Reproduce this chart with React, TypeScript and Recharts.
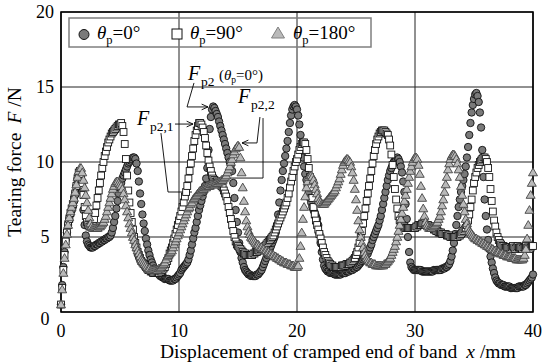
import { ScatterChart, Scatter, XAxis, YAxis, CartesianGrid, ReferenceLine, ReferenceDot, ReferenceArea } from 'recharts'

// displacement is sampled every 0.1 mm from 0 to 40 mm
const STEP = 0.1
const xTicks = [0, 10, 20, 30, 40]
const yTicks = [0, 5, 10, 15, 20]

// tearing force F [N], theta_p = 0 deg
const forceP0 = [
	0.5, 1.8, 3.0, 4.0, 4.8, 5.3, 5.8, 6.2, 6.5, 6.8,
	7.0, 7.4, 7.9, 8.4, 8.9, 9.2, 9.3, 9.0, 8.0, 6.8,
	5.8, 5.1, 4.7, 4.5, 4.4, 4.3, 4.3, 4.3, 4.4, 4.4,
	4.5, 4.5, 4.6, 4.6, 4.7, 4.7, 4.8, 4.8, 4.9, 4.9,
	5.0, 5.0, 5.1, 5.3, 5.6, 6.0, 6.4, 6.9, 7.4, 7.9,
	8.3, 8.6, 8.9, 9.1, 9.3, 9.5, 9.7, 9.9, 10.0, 10.1,
	10.2, 10.3, 10.3, 10.2, 9.9, 9.4, 8.7, 7.9, 7.2, 6.5,
	5.9, 5.4, 4.9, 4.5, 4.1, 3.8, 3.5, 3.3, 3.1, 2.9,
	2.8, 2.7, 2.6, 2.5, 2.4, 2.4, 2.3, 2.3, 2.2, 2.2,
	2.2, 2.2, 2.1, 2.1, 2.1, 2.1, 2.2, 2.2, 2.3, 2.4,
	2.5, 2.6, 2.8, 2.9, 3.0, 3.1, 3.2, 3.3, 3.5, 3.8,
	4.1, 4.5, 4.9, 5.3, 5.6, 6.0, 6.4, 6.8, 7.1, 7.4,
	7.7, 8.0, 8.4, 8.9, 9.6, 10.8, 12.2, 13.0, 13.5, 13.7,
	13.6, 13.4, 13.2, 13.0, 12.7, 12.4, 12.1, 11.8, 11.5, 11.2,
	10.9, 10.6, 10.3, 10.0, 9.8, 9.4, 8.6, 7.6, 6.8, 6.0,
	5.3, 4.6, 4.0, 3.6, 3.3, 3.0, 2.8, 2.7, 2.6, 2.5,
	2.5, 2.4, 2.4, 2.4, 2.4, 2.4, 2.5, 2.5, 2.6, 2.7,
	2.8, 3.0, 3.2, 3.4, 3.6, 3.8, 4.0, 4.2, 4.4, 4.6,
	4.8, 5.0, 5.3, 5.8, 6.5, 7.3, 8.1, 8.8, 9.4, 9.9,
	10.4, 10.9, 11.4, 12.0, 12.6, 13.1, 13.5, 13.7, 13.8, 13.7,
	13.5, 13.1, 12.5, 11.8, 11.0, 10.3, 9.7, 9.2, 8.8, 8.4,
	8.0, 7.6, 7.3, 7.0, 6.8, 6.6, 6.4, 6.2, 5.8, 5.2,
	4.6, 4.0, 3.5, 3.1, 2.9, 2.8, 2.7, 2.7, 2.6, 2.6,
	2.6, 2.6, 2.5, 2.5, 2.5, 2.5, 2.5, 2.5, 2.6, 2.6,
	2.6, 2.6, 2.7, 2.7, 2.7, 2.8, 2.8, 2.8, 2.9, 2.9,
	3.0, 3.0, 3.1, 3.2, 3.3, 3.4, 3.5, 3.6, 3.7, 3.8,
	3.9, 4.1, 4.3, 4.5, 4.8, 5.0, 5.2, 5.4, 5.6, 5.8,
	6.1, 6.4, 6.8, 7.2, 7.6, 8.0, 8.4, 8.8, 9.1, 9.4,
	9.6, 9.8, 10.0, 10.1, 10.2, 10.3, 10.2, 10.0, 9.7, 9.3,
	8.7, 8.0, 7.2, 6.2, 5.0, 4.0, 3.3, 3.0, 2.9, 2.8,
	2.8, 2.8, 2.8, 2.8, 2.8, 2.8, 2.7, 2.7, 2.7, 2.7,
	2.7, 2.7, 2.7, 2.7, 2.7, 2.7, 2.8, 2.8, 2.8, 2.8,
	2.8, 2.8, 2.8, 2.9, 2.9, 2.9, 3.0, 3.0, 3.1, 3.2,
	3.4, 3.7, 4.1, 4.6, 5.2, 5.8, 6.4, 7.0, 7.5, 8.0,
	8.4, 8.8, 9.2, 9.7, 10.3, 11.0, 11.8, 12.6, 13.3, 13.8,
	14.2, 14.5, 14.6, 14.4, 14.0, 13.3, 12.3, 10.8, 9.0, 7.5,
	6.4, 5.5, 4.8, 4.2, 3.7, 3.3, 2.9, 2.6, 2.3, 2.1,
	2.0, 1.9, 1.9, 1.8, 1.8, 1.8, 1.7, 1.7, 1.7, 1.7,
	1.7, 1.6, 1.6, 1.6, 1.6, 1.6, 1.6, 1.6, 1.7, 1.7,
	1.7, 1.7, 1.7, 1.8, 1.8, 1.9, 2.0, 2.1, 2.2, 2.3,
	2.5,
]

// theta_p = 90 deg
const forceP90 = [
	0.5, 1.6, 2.8, 3.8, 4.7, 5.3, 5.8, 6.2, 6.6, 6.9,
	7.2, 7.5, 7.9, 8.4, 8.9, 9.3, 9.4, 9.2, 8.6, 7.8,
	7.0, 6.4, 6.0, 5.8, 5.7, 5.7, 5.8, 5.9, 6.2, 6.6,
	7.1, 7.6, 8.1, 8.6, 9.1, 9.6, 10.0, 10.4, 10.7, 11.0,
	11.3, 11.5, 11.7, 11.9, 12.0, 12.1, 12.2, 12.3, 12.4, 12.5,
	12.5, 12.6, 12.4, 12.0, 11.2, 10.2, 9.1, 8.1, 7.3, 6.6,
	6.0, 5.5, 5.0, 4.6, 4.3, 4.0, 3.8, 3.6, 3.4, 3.3,
	3.2, 3.1, 3.0, 2.9, 2.8, 2.8, 2.7, 2.7, 2.6, 2.6,
	2.6, 2.6, 2.6, 2.6, 2.7, 2.7, 2.8, 2.9, 3.0, 3.2,
	3.4, 3.6, 3.9, 4.1, 4.3, 4.6, 4.9, 5.2, 5.5, 5.8,
	6.1, 6.4, 6.7, 7.0, 7.3, 7.7, 8.0, 8.4, 8.9, 9.4,
	9.9, 10.4, 10.9, 11.4, 11.8, 12.1, 12.4, 12.6, 12.6, 12.5,
	12.3, 12.0, 11.6, 11.1, 10.6, 10.1, 9.7, 9.4, 9.1, 8.9,
	8.8, 8.7, 8.7, 8.6, 8.6, 8.5, 8.4, 8.3, 8.1, 7.9,
	7.7, 7.4, 7.0, 6.6, 6.2, 5.8, 5.4, 5.0, 4.7, 4.5,
	4.4, 4.3, 4.2, 4.1, 4.0, 3.9, 3.9, 3.8, 3.8, 3.8,
	3.8, 3.8, 3.8, 3.9, 3.9, 4.0, 4.0, 4.1, 4.1, 4.2,
	4.2, 4.3, 4.3, 4.4, 4.5, 4.6, 4.7, 4.8, 4.9, 5.0,
	5.1, 5.3, 5.5, 5.7, 5.9, 6.1, 6.3, 6.5, 6.7, 6.9,
	7.1, 7.3, 7.6, 7.9, 8.3, 8.7, 9.0, 9.4, 9.7, 10.0,
	10.2, 10.5, 10.8, 11.0, 11.2, 11.3, 11.3, 11.2, 10.8, 10.2,
	9.6, 9.0, 8.3, 7.6, 7.0, 6.5, 6.1, 5.8, 5.5, 5.2,
	4.9, 4.6, 4.3, 4.0, 3.8, 3.6, 3.4, 3.3, 3.2, 3.1,
	3.1, 3.0, 3.0, 3.0, 3.0, 3.0, 3.0, 3.0, 3.1, 3.1,
	3.1, 3.1, 3.2, 3.2, 3.2, 3.3, 3.3, 3.4, 3.5, 3.6,
	3.8, 4.0, 4.3, 4.6, 5.0, 5.4, 5.9, 6.4, 6.9, 7.4,
	7.9, 8.4, 8.9, 9.4, 9.9, 10.4, 10.8, 11.2, 11.5, 11.7,
	11.9, 12.0, 12.1, 12.1, 12.1, 12.0, 11.9, 11.8, 11.5, 11.1,
	10.5, 9.8, 9.0, 8.2, 7.5, 6.9, 6.4, 6.1, 5.9, 5.8,
	5.7, 5.7, 5.6, 5.6, 5.6, 5.6, 5.6, 5.6, 5.6, 5.6,
	5.6, 5.7, 5.7, 5.8, 5.8, 5.8, 5.9, 5.9, 5.9, 5.8,
	5.8, 5.8, 5.7, 5.7, 5.6, 5.6, 5.5, 5.5, 5.4, 5.4,
	5.3, 5.3, 5.3, 5.2, 5.2, 5.2, 5.2, 5.1, 5.1, 5.1,
	5.0, 5.0, 5.0, 5.0, 5.0, 5.0, 5.0, 5.1, 5.1, 5.2,
	5.3, 5.4, 5.5, 5.6, 5.8, 6.1, 6.5, 7.0, 7.5, 8.1,
	8.6, 9.0, 9.3, 9.6, 9.8, 10.0, 10.1, 10.2, 10.3, 10.3,
	10.2, 10.0, 9.6, 9.0, 8.2, 7.4, 6.7, 6.1, 5.7, 5.3,
	5.0, 4.8, 4.6, 4.5, 4.4, 4.4, 4.3, 4.3, 4.3, 4.3,
	4.3, 4.2, 4.3, 4.4, 4.3, 4.2, 4.3, 4.4, 4.3, 4.3,
	4.3, 4.2, 4.3, 4.3, 4.4, 4.3, 4.3, 4.2, 4.3, 4.4,
	4.4,
]

// theta_p = 180 deg
const forceP180 = [
	0.5, 1.5, 2.6, 3.6, 4.5, 5.2, 5.8, 6.3, 6.7, 7.0,
	7.3, 7.6, 8.0, 8.5, 9.0, 9.4, 9.6, 9.6, 9.3, 8.8,
	8.3, 7.8, 7.3, 6.8, 6.3, 5.9, 5.7, 5.6, 5.6, 5.6,
	5.6, 5.6, 5.7, 5.7, 5.8, 5.9, 6.0, 6.2, 6.4, 6.7,
	7.0, 7.3, 7.6, 7.9, 8.2, 8.4, 8.6, 8.7, 8.7, 8.6,
	8.5, 8.4, 8.2, 7.9, 7.5, 7.1, 6.7, 6.3, 5.9, 5.6,
	5.3, 5.0, 4.8, 4.5, 4.3, 4.1, 3.9, 3.7, 3.5, 3.4,
	3.3, 3.2, 3.1, 3.0, 2.9, 2.9, 2.8, 2.8, 2.8, 2.8,
	2.8, 2.8, 2.8, 2.9, 2.9, 3.0, 3.1, 3.2, 3.3, 3.5,
	3.7, 3.8, 3.9, 4.0, 4.1, 4.3, 4.5, 4.7, 4.9, 5.1,
	5.3, 5.5, 5.7, 5.9, 6.1, 6.3, 6.5, 6.7, 6.9, 7.0,
	7.2, 7.3, 7.5, 7.6, 7.7, 7.8, 7.9, 8.0, 8.1, 8.1,
	8.2, 8.2, 8.3, 8.3, 8.4, 8.4, 8.4, 8.5, 8.5, 8.5,
	8.5, 8.6, 8.6, 8.6, 8.7, 8.7, 8.8, 8.8, 8.9, 9.0,
	9.1, 9.3, 9.5, 9.7, 10.0, 10.2, 10.5, 10.7, 10.9, 11.0,
	11.1, 11.0, 10.3, 9.3, 8.3, 7.4, 6.7, 6.1, 5.7, 5.4,
	5.2, 5.0, 4.9, 4.8, 4.7, 4.6, 4.5, 4.5, 4.4, 4.3,
	4.3, 4.2, 4.2, 4.1, 4.1, 4.0, 4.0, 3.9, 3.9, 3.8,
	3.8, 3.7, 3.7, 3.6, 3.6, 3.5, 3.5, 3.4, 3.4, 3.3,
	3.3, 3.3, 3.2, 3.2, 3.2, 3.1, 3.1, 3.1, 3.0, 3.0,
	3.0, 3.1, 3.6, 4.4, 5.3, 6.2, 7.0, 7.7, 8.3, 8.7,
	9.0, 9.1, 9.1, 9.0, 8.8, 8.5, 8.2, 7.9, 7.6, 7.4,
	7.3, 7.2, 7.2, 7.2, 7.3, 7.4, 7.5, 7.6, 7.7, 7.8,
	7.9, 8.0, 8.1, 8.3, 8.5, 8.7, 8.9, 9.2, 9.5, 9.8,
	10.0, 10.1, 10.2, 10.2, 10.1, 10.0, 9.7, 9.3, 8.8, 8.2,
	7.5, 6.8, 6.1, 5.5, 5.0, 4.6, 4.3, 4.0, 3.8, 3.6,
	3.5, 3.4, 3.3, 3.3, 3.2, 3.2, 3.2, 3.1, 3.1, 3.1,
	3.1, 3.1, 3.1, 3.1, 3.2, 3.2, 3.3, 3.4, 3.5, 3.6,
	3.8, 4.0, 4.2, 4.4, 4.7, 5.0, 5.4, 5.8, 6.2, 6.6,
	7.0, 7.4, 7.8, 8.2, 8.6, 9.0, 9.4, 9.7, 10.0, 10.2,
	10.3, 10.3, 10.2, 9.8, 9.2, 8.4, 7.6, 6.9, 6.4, 6.0,
	5.8, 5.7, 5.6, 5.6, 5.6, 5.7, 5.7, 5.8, 5.9, 6.0,
	6.2, 6.4, 6.7, 7.1, 7.5, 8.0, 8.5, 9.0, 9.5, 9.9,
	10.2, 10.4, 10.5, 10.5, 10.4, 10.2, 9.9, 9.5, 9.0, 8.4,
	7.8, 7.2, 6.7, 6.2, 5.9, 5.6, 5.4, 5.3, 5.2, 5.1,
	5.0, 4.9, 4.9, 4.8, 4.8, 4.7, 4.7, 4.6, 4.6, 4.5,
	4.5, 4.4, 4.4, 4.3, 4.3, 4.2, 4.2, 4.1, 4.1, 4.0,
	4.0, 4.0, 3.9, 3.9, 3.9, 3.8, 3.8, 3.8, 3.7, 3.7,
	3.7, 3.7, 3.6, 3.6, 3.6, 3.6, 3.5, 3.5, 3.5, 3.5,
	3.5, 3.5, 3.6, 3.8, 4.2, 4.9, 5.8, 6.8, 7.8, 8.6,
	9.3,
]

// annotation leader lines, in data units (x mm, F N)
const leaderLines = [
	{ from: [11.27, 15.27], to: [10.68, 13.67], arrow: false },
	{ from: [10.68, 13.67], to: [12.46, 13.67], arrow: true },
	{ from: [9.66, 12.53], to: [11.19, 12.53], arrow: true },
	{ from: [8.47, 11.93], to: [9.07, 8.0], arrow: false },
	{ from: [9.07, 8.0], to: [11.1, 8.0], arrow: false },
	{ from: [16.86, 13.0], to: [16.61, 11.27], arrow: false },
	{ from: [16.61, 11.27], to: [15.34, 11.27], arrow: true },
	{ from: [17.12, 12.93], to: [17.12, 8.93], arrow: false },
	{ from: [17.12, 8.93], to: [14.15, 8.93], arrow: false },
]

const labels = [
	{ x: 10.76, y: 15.47, sub: 'p2', note: true },
	{ x: 6.44, y: 12.47, sub: 'p2,1', note: false },
	{ x: 15.0, y: 13.93, sub: 'p2,2', note: false },
]

const FONT = '"Liberation Serif", "Times New Roman", serif'

const toPoints = (ys: number[]) => ys.map((y, i) => ({ x: Math.round(i * STEP * 10) / 10, y }))

const circleShape = (p: any) => (
	<circle cx={p.cx} cy={p.cy} r={3.7} fill="#7a7a7a" stroke="#111" strokeWidth={0.9} />
)
const squareShape = (p: any) => (
	<rect x={p.cx - 3.4} y={p.cy - 3.4} width={6.8} height={6.8} fill="#fff" stroke="#111" strokeWidth={0.9} />
)
const triangleShape = (p: any) => (
	<polygon
		points={`${p.cx},${p.cy - 4.4} ${p.cx + 4.5},${p.cy + 3.3} ${p.cx - 4.5},${p.cy + 3.3}`}
		fill="#bababa"
		stroke="#444"
		strokeWidth={0.9}
	/>
)

const plainLine = (p: any) => <line x1={p.x1} y1={p.y1} x2={p.x2} y2={p.y2} stroke="#000" strokeWidth={0.9} />

const arrowLine = (p: any) => {
	const { x1, y1, x2, y2 } = p
	const a = Math.atan2(y2 - y1, x2 - x1)
	const len = 7
	const w = 0.42
	const h1 = `${x2 - len * Math.cos(a - w)},${y2 - len * Math.sin(a - w)}`
	const h2 = `${x2 - len * Math.cos(a + w)},${y2 - len * Math.sin(a + w)}`
	return (
		<g>
			<line x1={x1} y1={y1} x2={x2} y2={y2} stroke="#000" strokeWidth={0.9} />
			<polyline points={`${h1} ${x2},${y2} ${h2}`} fill="none" stroke="#000" strokeWidth={0.9} />
		</g>
	)
}

const makeLabel = (sub: string, note: boolean) => (p: any) => (
	<g fontFamily={FONT} fill="#000">
		<text x={p.cx} y={p.cy} fontSize={20} fontStyle="italic">F</text>
		<text x={p.cx + 13} y={p.cy + 6} fontSize={13.5}>{sub}</text>
		{note && (
			<text x={p.cx + 31} y={p.cy} fontSize={15}>
				(<tspan fontStyle="italic">θ</tspan>
				<tspan fontSize={9.5} dy={3}>p</tspan>
				<tspan dy={-3}>=0°)</tspan>
			</text>
		)}
	</g>
)

const YTick = (p: any) => {
	const v = p.payload.value
	return (
		<text x={45} y={p.y + (v === 0 ? 13 : 6)} textAnchor="middle" fontSize={18} fontFamily={FONT} fill="#000">
			{v}
		</text>
	)
}

const XTick = (p: any) => (
	<text x={p.x} y={337} textAnchor="middle" fontSize={18} fontFamily={FONT} fill="#000">
		{p.payload.value}
	</text>
)

const XTitle = (p: any) => (
	<text x={p.viewBox.x + 99} y={p.viewBox.y + 46} fontSize={19.5} fontFamily={FONT} fill="#000">
		Displacement of cramped end of band
		<tspan dx={9} fontStyle="italic">x</tspan>
		<tspan dx={5}>/mm</tspan>
	</text>
)

const YTitle = (p: any) => {
	const cx = 21
	const cy = p.viewBox.y + p.viewBox.height / 2
	return (
		<text x={cx} y={cy} textAnchor="middle" transform={`rotate(-90, ${cx}, ${cy})`} fontSize={19.5} fontFamily={FONT} fill="#000">
			Tearing force
			<tspan dx={9} fontStyle="italic">F</tspan>
			<tspan dx={5}>/N</tspan>
		</text>
	)
}

function LegendBox() {
	const txt = (x: number, val: string) => (
		<text x={x} y={39} fontSize={19} fontFamily={FONT} fill="#000">
			<tspan fontStyle="italic">θ</tspan>
			<tspan fontSize={12.5} dy={4.5}>p</tspan>
			<tspan dy={-4.5}>={val}°</tspan>
		</text>
	)
	return (
		<svg width={555} height={363} style={{ position: 'absolute', left: 0, top: 0, pointerEvents: 'none' }}>
			<rect x={69} y={18} width={302} height={29} fill="none" stroke="#7f7f7f" strokeWidth={1.5} />
			<circle cx={84} cy={34.5} r={5} fill="#7a7a7a" stroke="#111" strokeWidth={1} />
			{txt(97, '0')}
			<rect x={172} y={29} width={10} height={10} fill="#fff" stroke="#111" strokeWidth={1} />
			{txt(190, '90')}
			<polygon points="278,27 284.5,38 271.5,38" fill="#bababa" stroke="#808080" strokeWidth={1} />
			{txt(293, '180')}
		</svg>
	)
}

export default function App() {
	return (
		<div style={{ position: 'absolute', left: 0, top: 0, width: 555, height: 363, background: '#fff', fontFamily: FONT }}>
			<ScatterChart width={555} height={363} margin={{ top: 12, right: 22, bottom: 0, left: 0 }}>
				<CartesianGrid stroke="#222" strokeWidth={1} />
				<XAxis
					type="number"
					dataKey="x"
					domain={[0, 40]}
					ticks={xTicks}
					height={51}
					axisLine={false}
					tickLine={false}
					tick={XTick}
					label={{ content: XTitle }}
				/>
				<YAxis
					type="number"
					dataKey="y"
					domain={[0, 20]}
					ticks={yTicks}
					width={61}
					axisLine={false}
					tickLine={false}
					tick={YTick}
					label={{ content: YTitle }}
				/>
				<Scatter data={toPoints(forceP0)} shape={circleShape} isAnimationActive={false} />
				<Scatter data={toPoints(forceP90)} shape={squareShape} isAnimationActive={false} />
				<Scatter data={toPoints(forceP180)} shape={triangleShape} isAnimationActive={false} />
				<ReferenceArea x1={0} x2={40} y1={0} y2={20} fill="none" fillOpacity={0} stroke="#000" strokeWidth={1.6} />
				{leaderLines.map((l, i) => (
					<ReferenceLine
						key={i}
						segment={[{ x: l.from[0], y: l.from[1] }, { x: l.to[0], y: l.to[1] }]}
						shape={l.arrow ? arrowLine : plainLine}
					/>
				))}
				{labels.map((l, i) => (
					<ReferenceDot key={i} x={l.x} y={l.y} r={0} shape={makeLabel(l.sub, l.note)} />
				))}
			</ScatterChart>
			<LegendBox />
		</div>
	)
}
